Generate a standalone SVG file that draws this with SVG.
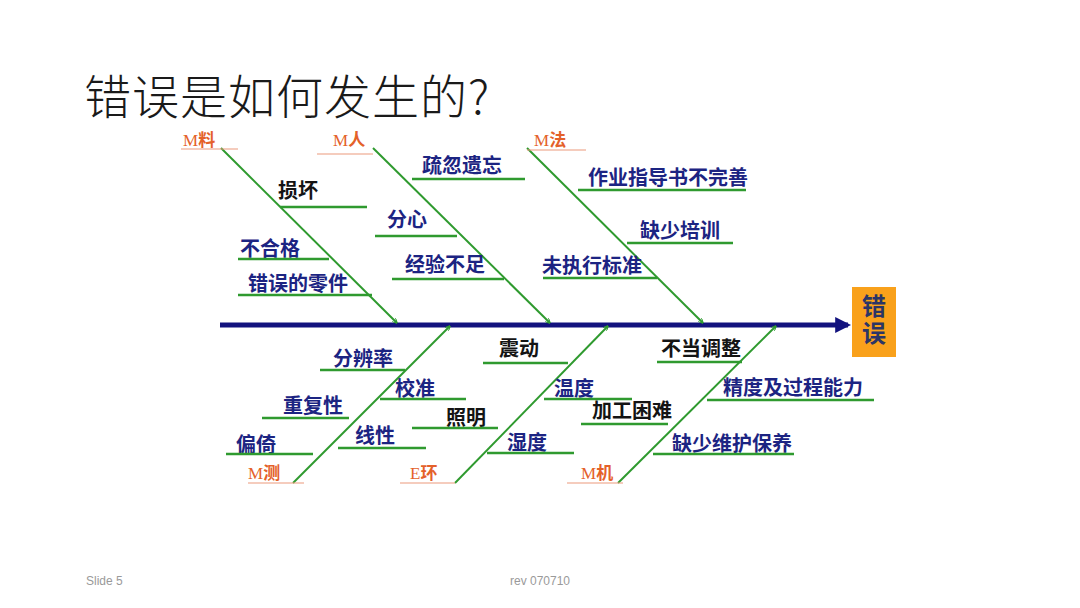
<svg xmlns="http://www.w3.org/2000/svg" width="1080" height="608" viewBox="0 0 1080 608">
<defs>
<marker id="ga" viewBox="0 0 10 10" refX="9" refY="5" markerWidth="5" markerHeight="5" orient="auto" markerUnits="userSpaceOnUse">
<path d="M0,0 L10,5 L0,10" fill="none" stroke="#2f9a2f" stroke-width="2"/>
</marker>
<marker id="na" viewBox="0 0 10 10" refX="8" refY="5" markerWidth="3.2" markerHeight="3.2" orient="auto">
<path d="M0,0 L10,5 L0,10 Z" fill="#12127e"/>
</marker>
</defs>
<style>
.t{font-family:"Noto Sans CJK SC","Noto Sans",sans-serif;font-weight:700;font-size:20px;fill:#1c2482}
.k{fill:#141414}
.c{font-family:"Liberation Serif","Noto Sans CJK SC",serif;font-size:17px;fill:#e4612a}
.ch{font-family:"Noto Sans CJK SC",sans-serif;font-weight:700}
.ul{stroke:#ec9a7c;stroke-width:1.2}
.sb{stroke:#2f9a2f;stroke-width:2.4}
.bone{stroke:#2f9a2f;stroke-width:2;fill:none}
.ft{font-family:"Liberation Sans","Noto Sans",sans-serif;font-size:12px;fill:#9a9a9a}
.ef{font-family:"Noto Sans CJK SC",sans-serif;font-weight:700;font-size:24px;fill:#2b3566}
</style>
<rect width="1080" height="608" fill="#ffffff"/>
<text x="84" y="114" font-family="Noto Sans CJK SC, sans-serif" font-weight="300" font-size="47" fill="#1a1a1a" letter-spacing="1">错误是如何发生的?</text>

<g id="connectors">
<line x1="220" y1="325" x2="848" y2="325" stroke="#12127e" stroke-width="5" marker-end="url(#na)"/>
<line class="bone" x1="221" y1="148" x2="397" y2="323" marker-end="url(#ga)"/>
<line class="bone" x1="373" y1="148" x2="550" y2="323" marker-end="url(#ga)"/>
<line class="bone" x1="527" y1="148" x2="703" y2="323" marker-end="url(#ga)"/>
<line class="bone" x1="293" y1="483" x2="450" y2="326" marker-end="url(#ga)"/>
<line class="bone" x1="455" y1="483" x2="608" y2="326" marker-end="url(#ga)"/>
<line class="bone" x1="618" y1="483" x2="776" y2="326" marker-end="url(#ga)"/>
</g>

<g id="effect">
<rect x="852" y="287" width="44" height="70" fill="#f9a11b"/>
<text class="ef" x="874" y="294" writing-mode="vertical-rl" letter-spacing="3">错误</text>
</g>

<g id="material">
<text class="c" x="183" y="146">M<tspan class="ch">料</tspan></text>
<line class="ul" x1="181" y1="149" x2="238" y2="149"/>
<text class="t k" x="278" y="198">损坏</text>
<line class="sb" x1="280" y1="207" x2="367" y2="207"/>
<text class="t" x="240" y="256">不合格</text>
<line class="sb" x1="238" y1="259" x2="329" y2="259"/>
<text class="t" x="248" y="291">错误的零件</text>
<line class="sb" x1="238" y1="295" x2="372" y2="295"/>
</g>

<g id="man">
<text class="c" x="333" y="146">M<tspan class="ch">人</tspan></text>
<line class="ul" x1="317" y1="154" x2="373" y2="154"/>
<text class="t" x="422" y="173">疏忽遗忘</text>
<line class="sb" x1="412" y1="179" x2="525" y2="179"/>
<text class="t" x="387" y="227">分心</text>
<line class="sb" x1="375" y1="236" x2="457" y2="236"/>
<text class="t" x="405" y="272">经验不足</text>
<line class="sb" x1="392" y1="279" x2="504" y2="279"/>
</g>

<g id="method">
<text class="c" x="534" y="146">M<tspan class="ch">法</tspan></text>
<line class="ul" x1="527" y1="150" x2="586" y2="150"/>
<text class="t" x="588" y="185">作业指导书不完善</text>
<line class="sb" x1="578" y1="190" x2="746" y2="190"/>
<text class="t" x="640" y="238">缺少培训</text>
<line class="sb" x1="627" y1="243" x2="733" y2="243"/>
<text class="t" x="542" y="273">未执行标准</text>
<line class="sb" x1="543" y1="278" x2="657" y2="278"/>
</g>

<g id="measurement">
<text class="c" x="248" y="479">M<tspan class="ch">测</tspan></text>
<line class="ul" x1="248" y1="483" x2="304" y2="483"/>
<text class="t" x="333" y="366">分辨率</text>
<line class="sb" x1="320" y1="370" x2="405" y2="370"/>
<text class="t" x="395" y="396">校准</text>
<line class="sb" x1="380" y1="399" x2="466" y2="399"/>
<text class="t" x="283" y="413">重复性</text>
<line class="sb" x1="262" y1="418" x2="349" y2="418"/>
<text class="t" x="355" y="443">线性</text>
<line class="sb" x1="338" y1="448" x2="426" y2="448"/>
<text class="t" x="236" y="452">偏倚</text>
<line class="sb" x1="226" y1="454" x2="313" y2="454"/>
</g>

<g id="environment">
<text class="c" x="410" y="479">E<tspan class="ch">环</tspan></text>
<line class="ul" x1="400" y1="483" x2="455" y2="483"/>
<text class="t k" x="446" y="425">照明</text>
<line class="sb" x1="412" y1="428" x2="498" y2="428"/>
<text class="t k" x="499" y="356">震动</text>
<line class="sb" x1="483" y1="363" x2="568" y2="363"/>
<text class="t" x="554" y="396">温度</text>
<line class="sb" x1="544" y1="399" x2="632" y2="399"/>
<text class="t" x="507" y="450">湿度</text>
<line class="sb" x1="487" y1="453" x2="574" y2="453"/>
</g>

<g id="machine">
<text class="c" x="581" y="479">M<tspan class="ch">机</tspan></text>
<line class="ul" x1="567" y1="483" x2="623" y2="483"/>
<text class="t k" x="592" y="418">加工困难</text>
<line class="sb" x1="581" y1="424" x2="668" y2="424"/>
<text class="t k" x="661" y="356">不当调整</text>
<line class="sb" x1="657" y1="362" x2="742" y2="362"/>
<text class="t" x="723" y="395">精度及过程能力</text>
<line class="sb" x1="707" y1="400" x2="874" y2="400"/>
<text class="t" x="672" y="451">缺少维护保养</text>
<line class="sb" x1="653" y1="454" x2="794" y2="454"/>
</g>

<text class="ft" x="86" y="585">Slide 5</text>
<text class="ft" x="510" y="585">rev 070710</text>
</svg>
